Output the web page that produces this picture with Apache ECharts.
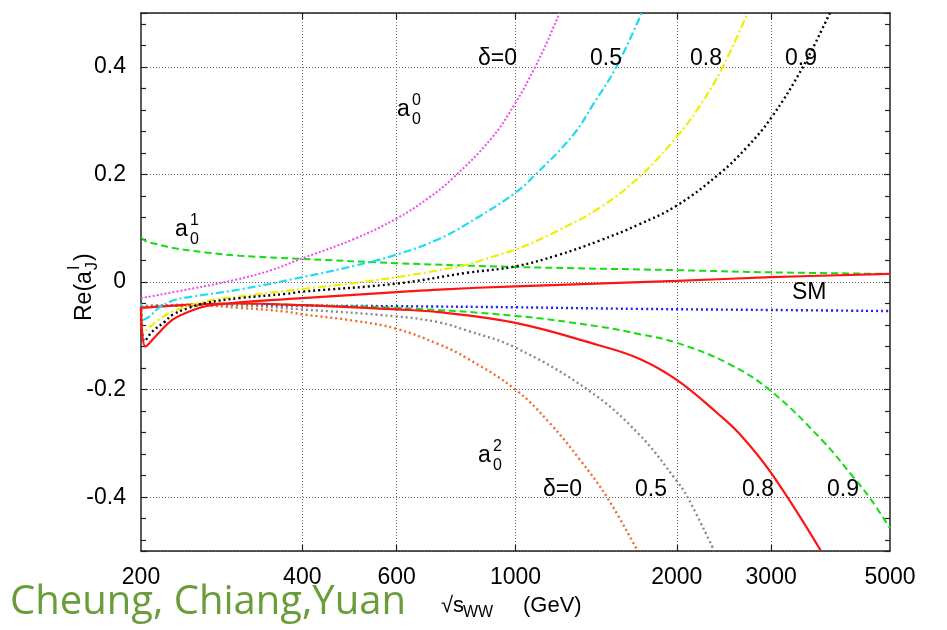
<!DOCTYPE html>
<html>
<head>
<meta charset="utf-8">
<script src="https://cdn.jsdelivr.net/npm/echarts@6/dist/echarts.min.js"></script>
<style>
html,body{margin:0;padding:0;background:#fff;}
#chart{width:947px;height:630px;}
</style>
</head>
<body>
<div id="chart"></div>
<script>
// ---- axis ticks ----
const xTickLabels = [200, 400, 600, 1000, 2000, 3000, 5000];
const xGridValues = [400, 600, 1000, 2000, 3000];

// ---- a_0^0 curves (sqrt(s_WW) in GeV, Re(a)) ----
const a00_d0_x  = [200, 250, 300, 350, 400, 500, 600, 690, 762, 900, 1000, 1086, 1150, 1208];
const a00_d0_y  = [-0.030, -0.012, 0.004, 0.022, 0.044, 0.080, 0.118, 0.157, 0.192, 0.266, 0.333, 0.398, 0.450, 0.500];

const a00_d05_x = [200, 202, 207, 216, 230, 246, 305, 400, 500, 600, 720, 850, 1000, 1078, 1278, 1400, 1543, 1720];
const a00_d05_y = [-0.040, -0.070, -0.065, -0.048, -0.034, -0.028, -0.014, 0.009, 0.030, 0.051, 0.080, 0.120, 0.166, 0.195, 0.272, 0.332, 0.400, 0.500];

const a00_d08_x = [200, 202, 207, 216, 229, 264, 305, 400, 500, 600, 720, 810, 933, 1000, 1158, 1436, 1718, 2000, 2200, 2438, 2710];
const a00_d08_y = [-0.050, -0.094, -0.085, -0.070, -0.055, -0.036, -0.027, -0.013, -0.002, 0.009, 0.022, 0.032, 0.051, 0.060, 0.088, 0.138, 0.199, 0.270, 0.325, 0.400, 0.500];

const a00_d09_x = [200, 203, 210, 222, 229, 246, 264, 305, 373, 400, 600, 810, 1000, 1200, 1436, 1700, 2000, 2407, 2700, 3000, 3440, 3860];
const a00_d09_y = [-0.050, -0.110, -0.092, -0.073, -0.061, -0.048, -0.039, -0.030, -0.022, -0.018, -0.003, 0.017, 0.029, 0.050, 0.077, 0.107, 0.142, 0.202, 0.250, 0.305, 0.400, 0.500];

// ---- a_0^1 curves ----
const a01_green_x = [200, 205, 213, 230, 264, 305, 400, 600, 1000, 2000, 3000, 5000];
const a01_green_y = [0.083, 0.075, 0.071, 0.063, 0.055, 0.049, 0.043, 0.035, 0.028, 0.022, 0.018, 0.015];

const a01_red_x = [200, 204, 213, 229, 246, 264, 305, 400, 600, 720, 1000, 2000, 3000, 5000];
const a01_red_y = [-0.045, -0.120, -0.101, -0.070, -0.055, -0.045, -0.038, -0.030, -0.019, -0.014, -0.008, 0.002, 0.009, 0.015];

// ---- SM ----
const sm_x = [200, 300, 400, 600, 1000, 1700, 3000, 5000];
const sm_y = [-0.045, -0.043, -0.044, -0.045, -0.047, -0.050, -0.052, -0.054];

// ---- a_0^2 curves ----
const a02_d0_x  = [200, 250, 305, 373, 400, 500, 600, 720, 810, 1000, 1158, 1318, 1486, 1690];
const a02_d0_y  = [-0.045, -0.043, -0.048, -0.055, -0.060, -0.072, -0.087, -0.116, -0.141, -0.200, -0.262, -0.330, -0.402, -0.500];

const a02_d05_x = [200, 250, 300, 400, 600, 720, 810, 1000, 1376, 1700, 2000, 2095, 2350];
const a02_d05_y = [-0.045, -0.042, -0.043, -0.051, -0.064, -0.075, -0.090, -0.122, -0.203, -0.283, -0.370, -0.400, -0.500];

const a02_d08_x = [200, 250, 300, 400, 600, 720, 1000, 1436, 1706, 2000, 2376, 2623, 3000, 3717];
const a02_d08_y = [-0.048, -0.042, -0.040, -0.043, -0.051, -0.056, -0.076, -0.118, -0.143, -0.182, -0.243, -0.283, -0.355, -0.500];

const a02_d09_x = [200, 250, 300, 400, 600, 1000, 1436, 1706, 2000, 2500, 3000, 3750, 4265, 4590, 5000];
const a02_d09_y = [-0.048, -0.042, -0.040, -0.043, -0.048, -0.063, -0.083, -0.097, -0.113, -0.152, -0.203, -0.296, -0.362, -0.402, -0.458];

// ---- build ----
const lg = v => Math.log10(v);
function pts(xs, ys) { return xs.map((x, i) => [lg(x), ys[i]]); }

function line(name, xs, ys, color, width, type) {
  return {
    name: name, type: 'line', data: pts(xs, ys),
    showSymbol: false, symbol: 'none', smooth: 0.4,
    clip: true, z: 3,
    lineStyle: { color: color, width: width, type: type, cap: 'butt' }
  };
}

const FONT = 'Liberation Sans, Arial, Helvetica, sans-serif';
const gridDot = { color: '#666', width: 1, type: [1, 2] };

const chart = echarts.init(document.getElementById('chart'), null, { renderer: 'canvas' });

function txt(t, x, y, size, extra) {
  return Object.assign({
    type: 'text', x: x, y: y, z: 10,
    style: { text: t, fontSize: size, fontFamily: FONT, fill: '#000',
             align: 'left', verticalAlign: 'middle' }
  }, extra || {});
}
function aLabel(x, y, sub, sup) {
  return {
    type: 'group', x: x, y: y, z: 10,
    children: [
      txt('a', 0, 0, 23),
      txt(sup, 15, -9.5, 16),
      txt(sub, 15, 9.5, 16)
    ]
  };
}

const option = {
  animation: false,
  backgroundColor: '#fff',
  textStyle: { fontFamily: FONT },
  grid: { left: 141, right: 57, top: 13, bottom: 79, containLabel: false },
  xAxis: [
    {
      type: 'value', position: 'bottom',
      min: lg(200), max: lg(5000),
      axisLine: { show: true, onZero: false, lineStyle: { color: '#222', width: 1.5 } },
      axisTick: { show: true, inside: true, length: 6, customValues: xGridValues.map(lg), lineStyle: { color: '#222', width: 1.2 } },
      axisLabel: { show: true, customValues: xTickLabels.map(lg), margin: 15, fontSize: 23, color: '#000', fontFamily: FONT,
                   formatter: v => String(Math.round(Math.pow(10, v))) },
      splitLine: { show: true, lineStyle: gridDot },
      minorTick: { show: false }
    },
    {
      type: 'value', position: 'top',
      min: lg(200), max: lg(5000),
      axisLine: { show: true, onZero: false, lineStyle: { color: '#222', width: 1.5 } },
      axisTick: { show: true, inside: true, length: 6, customValues: xGridValues.map(lg), lineStyle: { color: '#222', width: 1.2 } },
      axisLabel: { show: false },
      splitLine: { show: false }
    }
  ],
  yAxis: [
    {
      type: 'value', position: 'left',
      min: -0.5, max: 0.5, splitNumber: 5,
      axisLine: { show: true, onZero: false, lineStyle: { color: '#222', width: 1.5 } },
      axisTick: { show: true, inside: true, length: 6, lineStyle: { color: '#222', width: 1.2 } },
      minorTick: { show: true, splitNumber: 5, length: 5, lineStyle: { color: '#222', width: 1.2 } },
      axisLabel: { show: true, margin: 15, fontSize: 23, color: '#000', fontFamily: FONT,
                   showMinLabel: false, showMaxLabel: false },
      splitLine: { show: true, lineStyle: gridDot }
    },
    {
      type: 'value', position: 'right',
      min: -0.5, max: 0.5, splitNumber: 5,
      axisLine: { show: true, onZero: false, lineStyle: { color: '#222', width: 1.5 } },
      axisTick: { show: true, inside: true, length: 6, lineStyle: { color: '#222', width: 1.2 } },
      minorTick: { show: true, splitNumber: 5, length: 5, lineStyle: { color: '#222', width: 1.2 } },
      axisLabel: { show: false },
      splitLine: { show: false }
    }
  ],
  series: [
    line('SM', sm_x, sm_y, '#1f1fff', 2.4, [2, 3]),
    line('a02 d0', a02_d0_x, a02_d0_y, '#f26a2a', 2.4, [2, 3]),
    line('a02 d0.5', a02_d05_x, a02_d05_y, '#8a8a8a', 2.4, [2, 3]),
    line('a02 d0.9', a02_d09_x, a02_d09_y, '#14dd14', 2, [7, 4]),
    line('a02 d0.8', a02_d08_x, a02_d08_y, '#ff1414', 2.2, 'solid'),
    line('a01 green', a01_green_x, a01_green_y, '#14dd14', 2, [7, 4]),
    line('a00 d0', a00_d0_x, a00_d0_y, '#f04af0', 2, [2, 2]),
    line('a00 d0.5', a00_d05_x, a00_d05_y, '#1cdcf0', 2.2, [8, 3, 2, 3]),
    line('a00 d0.8', a00_d08_x, a00_d08_y, '#f2ee00', 2.2, [8, 3, 2, 3]),
    line('a00 d0.9', a00_d09_x, a00_d09_y, '#000000', 2.4, [2, 3]),
    line('a01 red', a01_red_x, a01_red_y, '#ff1414', 2.2, 'solid')
  ],
  graphic: [
    // curve family labels
    aLabel(397, 110, '0', '0'),
    aLabel(175, 230, '0', '1'),
    aLabel(478, 456, '0', '2'),
    // delta labels (top)
    txt('\u03b4=0', 478, 59, 23),
    txt('0.5', 590, 59, 23),
    txt('0.8', 690, 59, 23),
    txt('0.9', 785, 59, 23),
    // delta labels (bottom)
    txt('\u03b4=0', 543, 490, 23),
    txt('0.5', 635, 490, 23),
    txt('0.8', 742, 490, 23),
    txt('0.9', 827, 490, 23),
    txt('SM', 792, 293, 23),
    // x axis title
    txt('\u221as', 441, 606, 22),
    txt('WW', 463, 613, 16),
    txt('(GeV)', 523, 606, 22),
    // y axis title (rotated)
    {
      type: 'group', x: 85, y: 283, rotation: Math.PI / 2, z: 10,
      children: [
        txt('Re(a', -38, 0, 23),
        txt('J', 13, 8, 16),
        txt('I', 13, -10, 16),
        txt(')', 22, 0, 23)
      ]
    },
    // author credit
    {
      type: 'text', x: 10, y: 603, z: 10,
      style: { text: 'Cheung, Chiang,Yuan', fontSize: 40, fontFamily: 'Open Sans, Lato, sans-serif',
               fill: '#6a9c3a', align: 'left', verticalAlign: 'middle' }
    }
  ]
};

chart.setOption(option);
</script>
</body>
</html>
